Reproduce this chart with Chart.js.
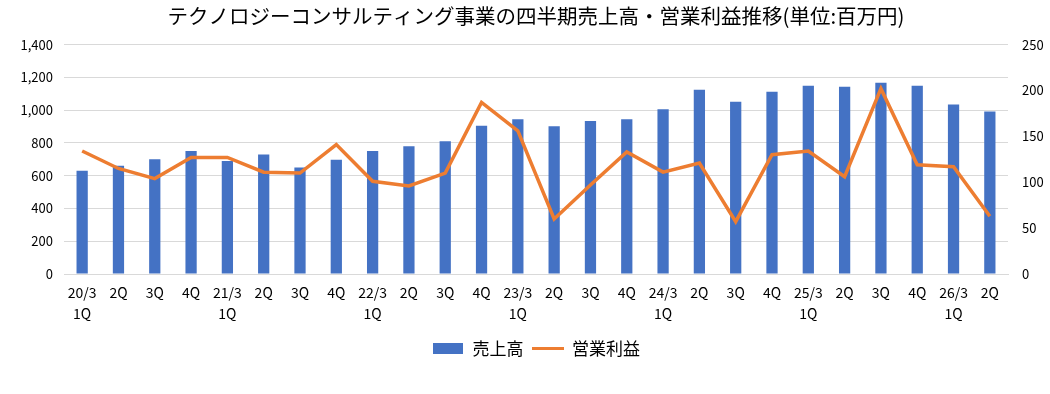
<!DOCTYPE html>
<html>
<head>
<meta charset="utf-8">
<script src="https://cdn.jsdelivr.net/npm/chart.js@4/dist/chart.umd.min.js"></script>
<style>
html,body{margin:0;padding:0;background:#fff;}
#wrap{width:1050px;height:394px;position:relative;}
</style>
</head>
<body>
<div id="wrap"><canvas id="c" width="1050" height="394"></canvas></div>
<script>
const categories = [
  ["20/3","1Q"],"2Q","3Q","4Q",
  ["21/3","1Q"],"2Q","3Q","4Q",
  ["22/3","1Q"],"2Q","3Q","4Q",
  ["23/3","1Q"],"2Q","3Q","4Q",
  ["24/3","1Q"],"2Q","3Q","4Q",
  ["25/3","1Q"],"2Q","3Q","4Q",
  ["26/3","1Q"],"2Q"
];
const salesLabel = "売上高";
const profitLabel = "営業利益";
const sales = [630,660,700,750,690,730,650,697,750,780,810,905,944,901,934,944,1006,1124,1051,1112,1149,1143,1167,1149,1034,991];
const profit = [134,115,104,127,127,111,110,141,101,96,110,187,156,60,97,133,111,121,57,130,134,106,202,119,117,63];
const titleText = "テクノロジーコンサルティング事業の四半期売上高・営業利益推移(単位:百万円)";

const FONT = "'Noto Sans CJK JP', 'Noto Sans', sans-serif";
const BLUE = "#4472C4";
const ORANGE = "#ED7D31";

function makeImg(w, h, draw) {
  const c = document.createElement('canvas');
  c.width = w; c.height = h;
  draw(c.getContext('2d'));
  return c;
}
const blueImg = makeImg(30, 11, g => { g.fillStyle = BLUE; g.fillRect(0, 0, 30, 11); });
const orangeImg = makeImg(32, 11, g => { g.fillStyle = ORANGE; g.fillRect(0, 4, 32, 3); });

new Chart(document.getElementById('c'), {
  data: {
    labels: categories,
    datasets: [
      {
        type: 'bar',
        label: salesLabel,
        data: sales,
        backgroundColor: BLUE,
        yAxisID: 'y',
        categoryPercentage: 1,
        barPercentage: 0.31,
        order: 2
      },
      {
        type: 'line',
        label: profitLabel,
        data: profit,
        borderColor: ORANGE,
        backgroundColor: ORANGE,
        borderWidth: 3.5,
        pointRadius: 0,
        tension: 0,
        yAxisID: 'y1',
        order: 1
      }
    ]
  },
  options: {
    responsive: false,
    animation: false,
    layout: { padding: { left: 0, right: 0, top: 4, bottom: 27 } },
    plugins: {
      title: {
        display: true,
        fullSize: false,
        text: titleText,
        color: '#000',
        font: { family: FONT, size: 20.5, weight: 'normal' },
        padding: { top: 0, bottom: 16 }
      },
      legend: {
        position: 'bottom',
        fullSize: false,
        labels: {
          usePointStyle: true,
          pointStyleWidth: 32,
          boxHeight: 11,
          color: '#000',
          font: { family: FONT, size: 17 },
          padding: 8,
          sort: (a, b) => a.datasetIndex - b.datasetIndex,
          generateLabels(chart) {
            const items = Chart.defaults.plugins.legend.labels.generateLabels(chart);
            items.forEach(it => {
              it.pointStyle = it.datasetIndex === 0 ? blueImg : orangeImg;
            });
            return items;
          }
        }
      },
      tooltip: { enabled: false }
    },
    scales: {
      x: {
        grid: { display: false, drawTicks: false },
        border: { display: true, color: '#d9d9d9', width: 1 },
        ticks: {
          color: '#000',
          font: { family: FONT, size: 14, lineHeight: 1.5 },
          maxRotation: 0,
          autoSkip: false,
          padding: 8
        }
      },
      y: {
        position: 'left',
        min: 0, max: 1400,
        grid: { color: '#d9d9d9', drawTicks: false },
        border: { display: false },
        ticks: {
          stepSize: 200,
          color: '#000',
          font: { family: FONT, size: 13 },
          padding: 11,
          callback: v => v.toLocaleString('en-US')
        },
        afterFit(s) { s.width = 64; }
      },
      y1: {
        position: 'right',
        min: 0, max: 250,
        grid: { display: false, drawTicks: false },
        border: { display: false },
        ticks: {
          stepSize: 50,
          color: '#000',
          font: { family: FONT, size: 13 },
          padding: 14
        },
        afterFit(s) { s.width = 42; }
      }
    }
  }
});
</script>
</body>
</html>
